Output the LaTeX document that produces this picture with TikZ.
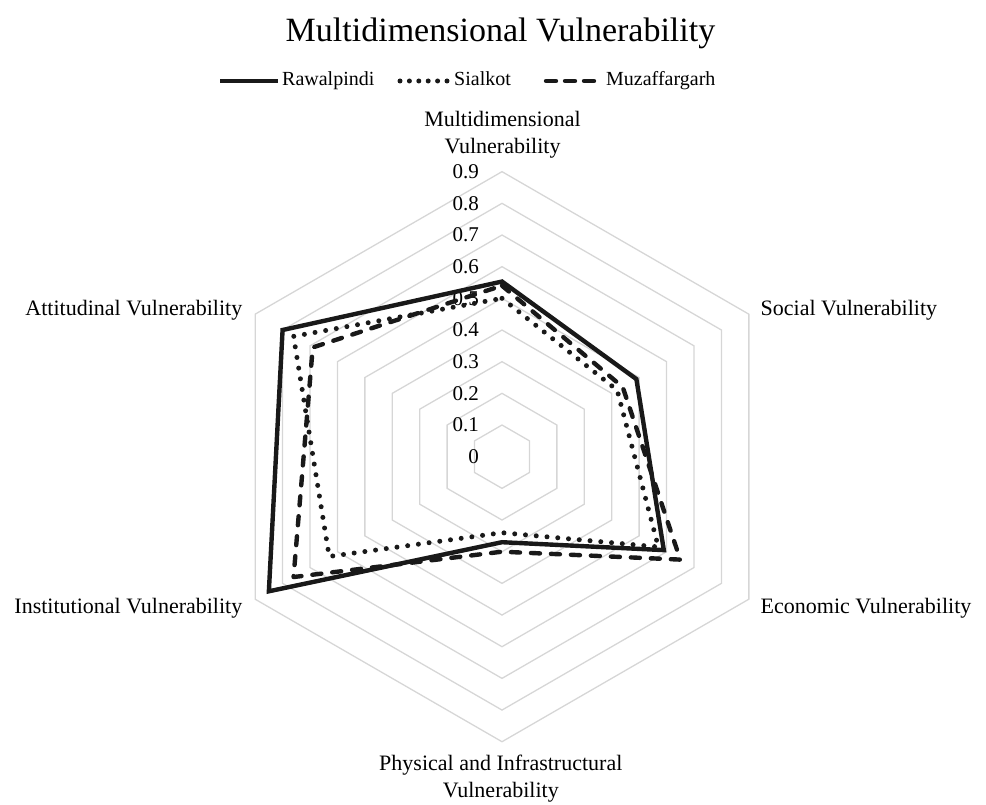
\documentclass[tikz,border=0pt]{standalone}
\usepackage{fontspec}
\setmainfont{Liberation Serif}
\usetikzlibrary{calc}
\tikzset{
  gridline/.style={draw=black!16, line width=1.3pt},
  ticklbl/.style={anchor=east, inner sep=0pt, font=\fontsize{21}{24}\selectfont},
  axislbl/.style={inner sep=0pt, font=\fontsize{22}{26.7}\selectfont, align=center},
  legendlbl/.style={anchor=west, inner sep=0pt, text height=13pt, text depth=4.5pt, font=\fontsize{20}{24}\selectfont},
  serA/.style={line width=4.4pt, line join=miter, black!90},
  serB/.style={line width=5pt, line cap=round, line join=round, dash pattern=on 0pt off 10.8pt, black!90},
  serC/.style={line width=4.4pt, line cap=round, line join=round, dash pattern=on 9pt off 11pt, black!90}
}
\begin{document}
\begin{tikzpicture}[x=1pt,y=1pt]
\useasboundingbox (0,0) rectangle (986,805);
\coordinate (C) at (502,348.3);
\node[font=\fontsize{34}{40}\selectfont, inner sep=0pt] (title) at (500.5,772) {Multidimensional Vulnerability};
% legend
\coordinate (la1) at (220,724); \coordinate (la2) at (278,724);
\draw[serA] (la1) -- (la2);
\node[legendlbl] (lr) at (282,724) {Rawalpindi};
\coordinate (lb1) at (400,724); \coordinate (lb2) at (447,724);
\draw[serB, dash pattern=on 0pt off 9.4pt] (lb1) -- (lb2);
\node[legendlbl] (ls) at (454,724) {Sialkot};
\coordinate (lc1) at (546,724); \coordinate (lc2) at (594,724);
\draw[serC, dash pattern=on 10pt off 9pt] (lc1) -- (lc2);
\node[legendlbl] (lm) at (606,724) {Muzaffargarh};
\begin{scope}[shift={(C)}]
  \foreach \l in {1,...,9}{
    \pgfmathsetmacro{\r}{\l*31.67}
    \draw[gridline] (90:\r) -- (30:\r) -- (-30:\r) -- (-90:\r) -- (-150:\r) -- (150:\r) -- cycle;
  }
  \foreach \l in {0,...,9}{
    \node[ticklbl] (t\l) at (-23,{\l*31.67}) {\ifnum\l=0 0\else 0.\l\fi};
  }
  \def\U{316.7}
  \draw[serA] (90:{0.553*\U}) -- (30:{0.49*\U}) -- (-30:{0.59*\U}) -- (-90:{0.27*\U}) -- (-150:{0.85*\U}) -- (150:{0.80*\U}) -- cycle;
  \draw[serB] (90:{0.50*\U}) -- (30:{0.42*\U}) -- (-30:{0.57*\U}) -- (-90:{0.24*\U}) -- (-150:{0.63*\U}) -- (150:{0.76*\U}) -- cycle;
  \draw[serC] (90:{0.54*\U}) -- (30:{0.44*\U}) -- (-30:{0.65*\U}) -- (-90:{0.30*\U}) -- (-150:{0.76*\U}) -- (150:{0.69*\U}) -- cycle;
\end{scope}
% axis labels
\node[axislbl] (amd) at (502.5,670) {Multidimensional\\Vulnerability};
\node[axislbl, anchor=west] (asoc) at (760.5,495) {Social Vulnerability};
\node[axislbl, anchor=west] (aeco) at (760.5,196.7) {Economic Vulnerability};
\node[axislbl] (aphy) at (500.8,26.7) {Physical and Infrastructural\\Vulnerability};
\node[axislbl, anchor=east] (ains) at (242.5,196.7) {Institutional Vulnerability};
\node[axislbl, anchor=east] (aatt) at (242.5,495) {Attitudinal Vulnerability};
\end{tikzpicture}
\end{document}
